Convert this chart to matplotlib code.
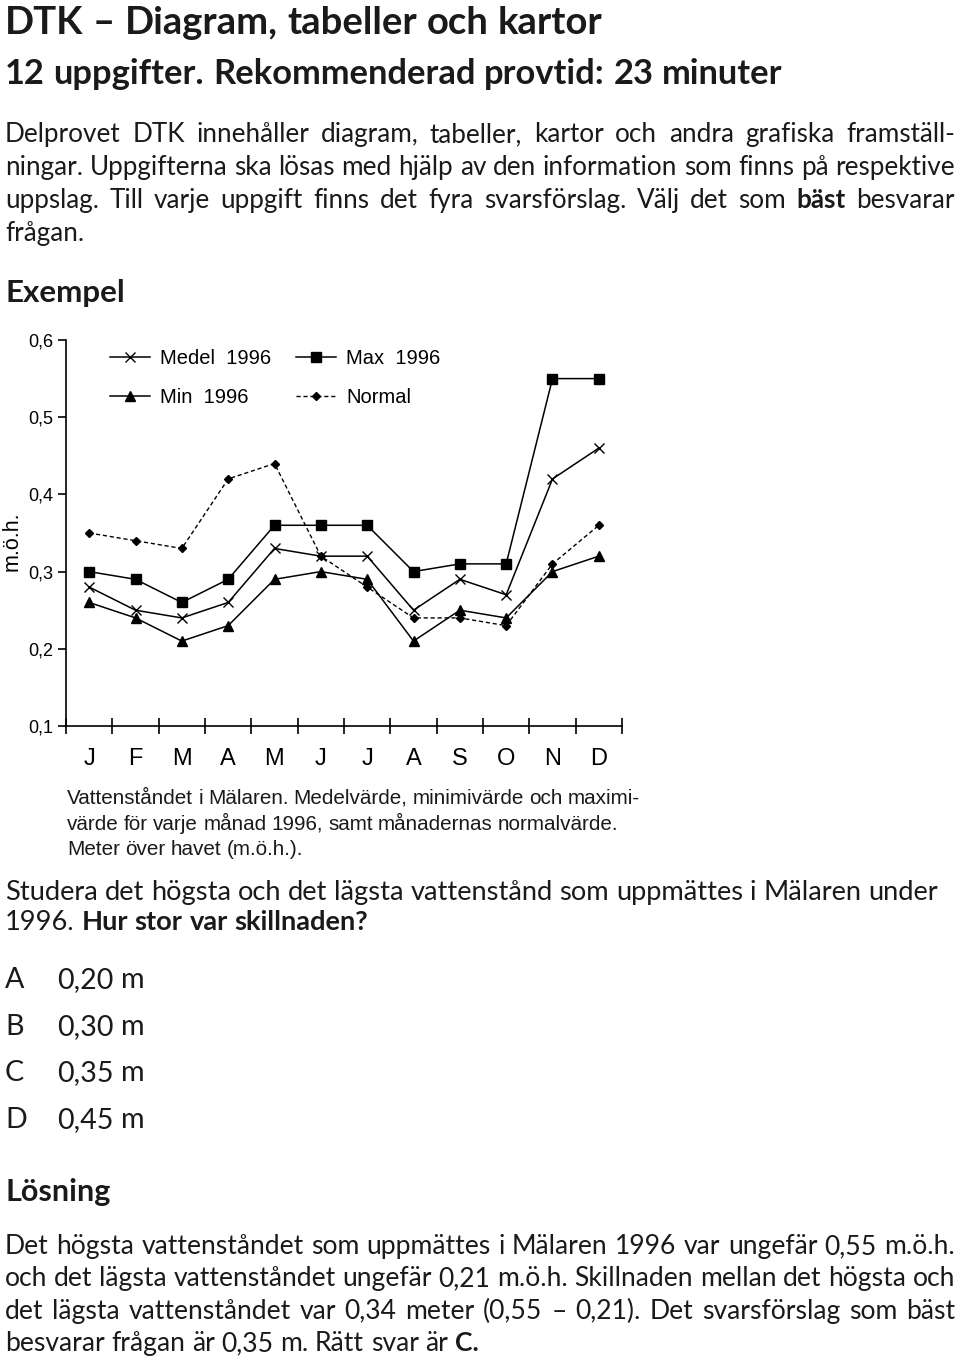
import numpy as np
import matplotlib.pyplot as plt

# Data
months = ['J', 'F', 'M', 'A', 'M', 'J', 'J', 'A', 'S', 'O', 'N', 'D']
medel_1996 = [0.28, 0.25, 0.24, 0.26, 0.33, 0.32, 0.32, 0.25, 0.29, 0.27, 0.42, 0.46]
max_1996 = [0.30, 0.29, 0.26, 0.29, 0.36, 0.36, 0.36, 0.30, 0.31, 0.31, 0.55, 0.55]
min_1996 = [0.26, 0.24, 0.21, 0.23, 0.29, 0.30, 0.29, 0.21, 0.25, 0.24, 0.30, 0.32]
normal = [0.35, 0.34, 0.33, 0.42, 0.44, 0.32, 0.28, 0.24, 0.24, 0.23, 0.31, 0.36]
y_ticks = [0.1, 0.2, 0.3, 0.4, 0.5, 0.6]
y_tick_labels = ['0,1', '0,2', '0,3', '0,4', '0,5', '0,6']

W, H = 960, 1362
BODY = 'Lato'
CHART = 'Liberation Sans'

fig = plt.figure(figsize=(W / 100, H / 100), dpi=100)
renderer = fig.canvas.get_renderer()


def make_words(y, segs, size, family):
    arts = []
    for txt, weight in segs:
        for wd in txt.split():
            arts.append(fig.text(0, 1 - y / H, wd, fontsize=size, fontweight=weight,
                                 family=family, va='baseline', ha='left', color='#1a1a1a'))
    return arts


def natural_width(segs, size, family=BODY):
    arts = make_words(0, segs, size, family)
    ws = [a.get_window_extent(renderer).width for a in arts]
    for a in arts:
        a.remove()
    return sum(ws) + size * 100 / 72 * 0.25 * (len(ws) - 1)


def fit_size(segs, width, family=BODY, base=20):
    return base * width / natural_width(segs, base, family)


def put_line(y, segs, size, x0=5, x1=None, family=BODY):
    arts = make_words(y, segs, size, family)
    ws = [a.get_window_extent(renderer).width for a in arts]
    gap = size * 100 / 72 * 0.25
    if x1 is not None and len(arts) > 1:
        gap = (x1 - x0 - sum(ws)) / (len(arts) - 1)
    x = x0
    for a, w in zip(arts, ws):
        a.set_x(x / W)
        x += w + gap


N, B = 'normal', 'bold'

# Headings
title = [('DTK – Diagram, tabeller och kartor', B)]
put_line(34, title, min(27.5, fit_size(title, 700)), x0=5)
sub = [('12 uppgifter. Rekommenderad provtid: 23 minuter', B)]
put_line(84, sub, fit_size(sub, 778), x0=5)

# Intro paragraph
intro = [
    [('Delprovet DTK innehåller diagram, tabeller, kartor och andra grafiska framställ-', N)],
    [('ningar. Uppgifterna ska lösas med hjälp av den information som finns på respektive', N)],
    [('uppslag. Till varje uppgift finns det fyra svarsförslag. Välj det som', N), ('bäst', B), ('besvarar', N)],
]
s_intro = min(fit_size(l, 950) for l in intro)
for i, l in enumerate(intro):
    put_line(142 + 33 * i, l, s_intro, x0=5, x1=955)
put_line(142 + 33 * 3, [('frågan.', N)], s_intro, x0=5)

put_line(302, [('Exempel', B)], fit_size([('Exempel', B)], 120), x0=5)

# Chart
ax = fig.add_axes([66 / W, 1 - 726 / H, 556 / W, 386 / H])
x = np.arange(len(months))
lw = 1.1
l_medel, = ax.plot(x, medel_1996, color='black', lw=lw, marker='x', ms=7, mew=1.0, label='Medel  1996')
l_max, = ax.plot(x, max_1996, color='black', lw=lw, marker='s', ms=6.5, label='Max  1996')
l_min, = ax.plot(x, min_1996, color='black', lw=lw, marker='^', ms=6.5, label='Min  1996')
l_norm, = ax.plot(x, normal, color='black', lw=1.0, ls=(0, (3, 2)), marker='D', ms=4.5, label='Normal')

ax.set_xlim(-0.5, 11.5)
ax.set_ylim(0.1, 0.6)
ax.set_yticks(y_ticks)
ax.set_yticklabels(y_tick_labels, family=CHART, fontsize=13)
ax.set_xticks(np.arange(-0.5, 12, 1))
ax.set_xticklabels([])
ax.set_xticks(x, minor=True)
ax.set_xticklabels(months, minor=True, family=CHART, fontsize=17)
ax.tick_params(axis='x', which='major', direction='inout', length=12, width=1.2)
ax.tick_params(axis='x', which='minor', length=0, pad=16)
ax.tick_params(axis='y', direction='out', length=6, width=1.2, pad=3)
for sp in ['top', 'right']:
    ax.spines[sp].set_visible(False)
for sp in ['left', 'bottom']:
    ax.spines[sp].set_linewidth(1.2)
ax.set_ylabel('m.ö.h.', family=CHART, fontsize=15.5)
ax.yaxis.set_label_coords(-0.078, 0.48)

ax.legend(handles=[l_medel, l_min, l_max, l_norm], ncol=2, loc='upper left',
          bbox_to_anchor=(0.079, 0.977), frameon=False, borderaxespad=0, borderpad=0,
          prop={'family': CHART, 'size': 14.5}, handlelength=2.0, handletextpad=0.5,
          columnspacing=1.2, labelspacing=1.0)

# Caption
cap = [
    'Vattenståndet i Mälaren. Medelvärde, minimivärde och maximi-',
    'värde för varje månad 1996, samt månadernas normalvärde.',
    'Meter över havet (m.ö.h.).',
]
s_cap = fit_size([(cap[0], N)], 571, family=CHART)
for i, c in enumerate(cap):
    put_line(804 + 25.5 * i, [(c, N)], s_cap, x0=67, family=CHART)

# Question
q1 = [('Studera det högsta och det lägsta vattenstånd som uppmättes i Mälaren under', N)]
s_q = fit_size(q1, 935)
put_line(900, q1, s_q, x0=5)
put_line(930, [('1996.', N), ('Hur stor var skillnaden?', B)], s_q, x0=5)

options = [('A', '0,20 m'), ('B', '0,30 m'), ('C', '0,35 m'), ('D', '0,45 m')]
for i, (letter, val) in enumerate(options):
    yy = 988 + 46.7 * i
    put_line(yy, [(letter, N)], s_q * 1.05, x0=5)
    put_line(yy, [(val, N)], s_q * 1.05, x0=57)

put_line(1201, [('Lösning', B)], fit_size([('Lösning', B)], 105), x0=5)

sol = [
    [('Det högsta vattenståndet som uppmättes i Mälaren 1996 var ungefär 0,55 m.ö.h.', N)],
    [('och det lägsta vattenståndet ungefär 0,21 m.ö.h. Skillnaden mellan det högsta och', N)],
    [('det lägsta vattenståndet var 0,34 meter (0,55 – 0,21). Det svarsförslag som bäst', N)],
]
s_sol = min(fit_size(l, 950) for l in sol)
for i, l in enumerate(sol):
    put_line(1254 + 32.3 * i, l, s_sol, x0=5, x1=955)
put_line(1254 + 32.3 * 3, [('besvarar frågan är 0,35 m. Rätt svar är', N), ('C.', B)], s_sol, x0=5)

fig.savefig('out.png', dpi=100)
